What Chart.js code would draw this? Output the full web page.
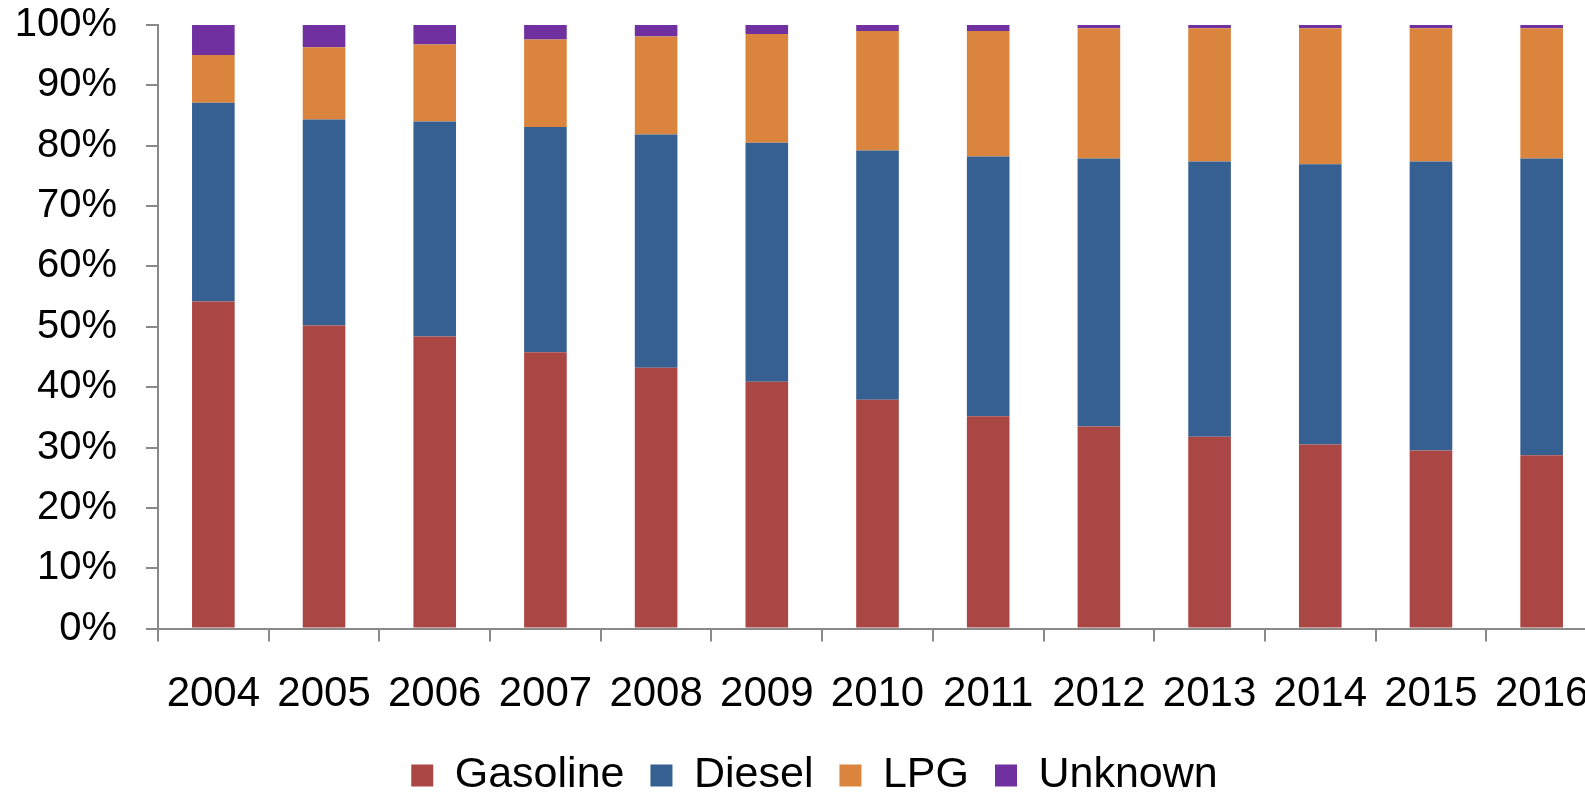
<!DOCTYPE html>
<html>
<head>
<meta charset="utf-8">
<script src="https://cdn.jsdelivr.net/npm/chart.js@4.4.1/dist/chart.umd.min.js"></script>
<style>
  html, body { margin: 0; padding: 0; background: #fff; overflow: hidden; }
  #wrap { position: absolute; left: 0; top: 0; width: 1629px; height: 796px; }
</style>
</head>
<body>
<div id="wrap"><canvas id="chartFuel" width="1629" height="796"></canvas></div>
<script>
const years = ['2004', '2005', '2006', '2007', '2008', '2009', '2010', '2011', '2012', '2013', '2014', '2015', '2016'];
const gasoline = [54.2, 50.2, 48.4, 45.8, 43.2, 40.9, 37.9, 35.2, 33.5, 31.8, 30.5, 29.5, 28.7];
const diesel   = [32.9, 34.15, 35.6, 37.3, 38.65, 39.6, 41.3, 43.0, 44.4, 45.6, 46.45, 47.9, 49.2];
const lpg      = [7.95, 11.95, 12.75, 14.5, 16.25, 18.0, 19.8, 20.8, 21.55, 22.05, 22.5, 22.05, 21.55];
const unknown  = [4.95, 3.7, 3.25, 2.4, 1.9, 1.5, 1.0, 1.0, 0.55, 0.55, 0.55, 0.55, 0.55];
const yTicks = [0, 10, 20, 30, 40, 50, 60, 70, 80, 90, 100];

const axisGray = '#898989';
Chart.defaults.font.family = '"Liberation Sans", Arial, sans-serif';
Chart.defaults.color = '#000';

// CHART COMBUSTIBLES
const chartFuel = document.getElementById('chartFuel');

new Chart(chartFuel, {
  type: 'bar',
  data: {
    labels: years,
    datasets: [
      { label: 'Gasoline', data: gasoline, backgroundColor: '#AA4643' },
      { label: 'Diesel', data: diesel, backgroundColor: '#376092' },
      { label: 'LPG', data: lpg, backgroundColor: '#DB843D' },
      { label: 'Unknown', data: unknown, backgroundColor: '#7030A0' }
    ]
  },
  options: {
    responsive: false,
    animation: false,
    devicePixelRatio: 1,
    datasets: { bar: { categoryPercentage: 1, barPercentage: 0.385 } },
    layout: { padding: { top: 25, left: 0, right: 0, bottom: -11 } },
    plugins: {
      tooltip: { enabled: false },
      legend: {
        position: 'bottom',
        labels: {
          boxWidth: 22,
          boxHeight: 22,
          padding: 26,
          font: { size: 43 }
        }
      }
    },
    scales: {
      x: {
        stacked: true,
        afterFit: (scale) => { scale.height = scale.height - 20; },
        border: { color: axisGray, width: 2 },
        grid: { drawOnChartArea: false, color: axisGray, lineWidth: 2, tickLength: 13, offset: true },
        ticks: { font: { size: 42 }, padding: 28, maxRotation: 0, autoSkip: false }
      },
      y: {
        stacked: true,
        min: 0,
        max: 100,
        afterFit: (scale) => {
          scale.width = 158;
          scale.paddingTop = 0;
          scale.paddingBottom = 0;
        },
        afterBuildTicks: (scale) => { scale.ticks = yTicks.map(v => ({ value: v })); },
        border: { color: axisGray, width: 2 },
        grid: { drawOnChartArea: false, color: axisGray, lineWidth: 2, tickLength: 12 },
        ticks: { font: { size: 40 }, padding: 29, callback: (v) => v + '%' }
      },
      // empty strip on the right so the plot ends where the original does
      pad: {
        position: 'right',
        afterFit: (scale) => { scale.width = 32; },
        grid: { display: false },
        border: { display: false },
        ticks: { display: false }
      }
    }
  }
});
</script>
</body>
</html>
